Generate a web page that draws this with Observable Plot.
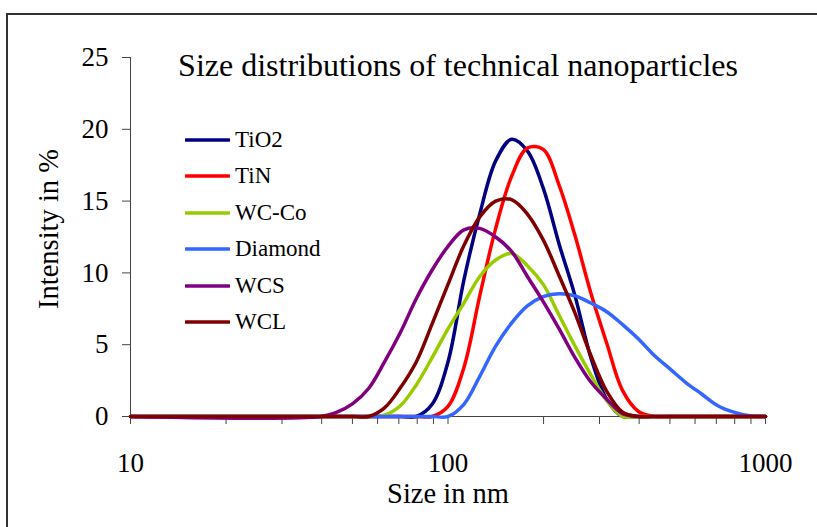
<!DOCTYPE html>
<html><head><meta charset="utf-8">
<script src="https://cdn.jsdelivr.net/npm/d3@7"></script>
<script src="https://cdn.jsdelivr.net/npm/@observablehq/plot@0.6"></script>
<style>
body{margin:0;background:#fff;}
#wrap{position:relative;width:817px;height:527px;overflow:hidden;}
#border{position:absolute;left:6px;top:13px;width:900px;height:600px;border:2px solid #333;box-sizing:border-box;pointer-events:none;}
#chart{position:absolute;left:0;top:0;}
.row{position:absolute;left:185px;height:36px;display:flex;align-items:center;white-space:nowrap;font-family:"Liberation Serif";font-size:23px;color:#000;}
.row svg{margin-right:5px;}
</style></head>
<body>
<div id="wrap"><div id="chart"></div><div id="legend"></div><div id="border"></div></div>
<script>
const sizes = [10, 39.81, 44.67, 50.12, 56.23, 63.10, 70.79, 79.43, 89.13, 100, 112.2, 125.9, 141.3, 158.5, 177.8, 199.5, 223.9, 251.2, 281.8, 316.2, 354.8, 398.1, 446.7, 501.2, 562.3, 631.0, 707.9, 794.3, 891.3, 1000];
const seriesNames = ["TiO2", "TiN", "WC-Co", "Diamond", "WCS", "WCL"];
const seriesColors = ["#000080", "#FF0000", "#99CC00", "#3366FF", "#800080", "#800000"];
//                 10  1.6 1.65 1.7 1.75 1.8  1.85 1.9  1.95 2.0   2.05  2.1   2.15  2.2   2.25  2.3   2.35  2.4   2.45  2.5   2.55  2.6  2.65  2.7  2.75  2.8  2.85  2.9  2.95 3.0
const tio2    = [0,  0,  0,   0,  0,   0,   0,   0,   0.85, 3.8, 9.5,  14.1, 17.8, 19.3, 18.5, 15.9, 12.0, 8.4,  4.1,  1.2,  0,    0,   0,    0,   0,    0,   0,    0,   0,   0];
const tin     = [0,  0,  0,   0,  0,   0,   0,   0,   0,    0.7, 3.4,  8.4,  13.1, 16.7, 18.7, 18.6, 16.1, 12.6, 8.6,  5.1,  1.8,  0.35, 0,   0,   0,    0,   0,    0,   0,   0];
const wcco    = [0,  0,  0,   0,  0,   0.1, 0.75,2.2, 4.1,  6.1, 7.9,  9.75, 10.9, 11.35,10.5, 9.2,  7.05, 4.9,  2.9,  1.1,  0,    0,   0,    0,   0,    0,   0,    0,   0,   0];
const diamond = [0,  0,  0,   0,  0,   0,   0,   0,   0,    0,   0.85, 2.8,  4.9,  6.5,  7.7,  8.35, 8.55, 8.4,  7.9,  7.3,  6.4,  5.4, 4.25, 3.3, 2.35, 1.55,0.75, 0.3, 0.05,0];
const wcs     = [0,  0,  0.3, 0.9,1.95,3.8, 5.85,8.2, 10.2, 11.85,13.0, 13.1, 12.5, 11.5, 9.75, 8.0,  6.1,  4.1,  2.4,  1.2,  0.2,  0,   0,    0,   0,    0,   0,    0,   0,   0];
const wcl     = [0,  0,  0,   0,  0,   0.6, 2.0, 3.8, 6.45, 9.2, 11.9, 13.9, 15.0, 15.1, 14.1, 12.3, 9.8,  7.2,  4.25, 1.75, 0.3,  0,   0,    0,   0,    0,   0,    0,   0,   0];
const seriesValues = [tio2, tin, wcco, diamond, wcs, wcl];
const xTicks = [10, 20, 30, 40, 50, 60, 70, 80, 90, 100, 200, 300, 400, 500, 600, 700, 800, 900, 1000];
const xTickLabels = [10, 100, 1000];
const yTicks = [0, 5, 10, 15, 20, 25];
const titleText = "Size distributions of technical nanoparticles";
const xLabel = "Size in nm";
const yLabel = "Intensity in %";

const rows = [];
seriesNames.forEach((name, k) => seriesValues[k].forEach((v, i) => rows.push({series: name, size: sizes[i], value: v})));

const chart = Plot.plot({
  width: 817, height: 527,
  marginLeft: 130, marginRight: 52, marginTop: 57, marginBottom: 111,
  style: {fontFamily: "Liberation Serif", background: "transparent", color: "#000"},
  x: {type: "log", domain: [10, 1000]},
  y: {domain: [0, 25]},
  color: {domain: seriesNames, range: seriesColors},
  marks: [
    Plot.axisY({ticks: yTicks, tickSize: 8, tickPadding: 14, fontSize: 27, label: null, stroke: "#444"}),
    Plot.axisX({ticks: xTicks, tickSize: 8, tickPadding: 28, fontSize: 27, label: null, stroke: "#444",
      tickFormat: d => xTickLabels.includes(d) ? String(d) : ""}),
    Plot.ruleX([10], {stroke: "#444"}),
    Plot.ruleY([0], {stroke: "#444"}),
    Plot.line(rows, {x: "size", y: "value", z: "series", stroke: "series", strokeWidth: 3.5, curve: "catmull-rom", strokeLinejoin: "round"}),
    Plot.text([titleText], {frameAnchor: "top", dx: 10, dy: 8, fontSize: 32, lineAnchor: "middle"}),
    Plot.text([xLabel], {frameAnchor: "bottom", dy: 77, fontSize: 28.5, lineAnchor: "middle"}),
    Plot.text([yLabel], {frameAnchor: "left", rotate: -90, dx: -82, dy: -8, fontSize: 28.5, lineAnchor: "middle", textAnchor: "middle"})
  ]
});
document.getElementById("chart").appendChild(chart);

const legend = document.getElementById("legend");
seriesNames.forEach((name, i) => {
  const row = document.createElement("div");
  row.className = "row";
  row.style.top = (122 + i * 36.4) + "px";
  row.innerHTML = `<svg width="45" height="8"><line x1="1" y1="4" x2="44" y2="4" stroke="${seriesColors[i]}" stroke-width="3.5" stroke-linecap="round"/></svg><span>${name}</span>`;
  legend.appendChild(row);
});
</script>
</body></html>
